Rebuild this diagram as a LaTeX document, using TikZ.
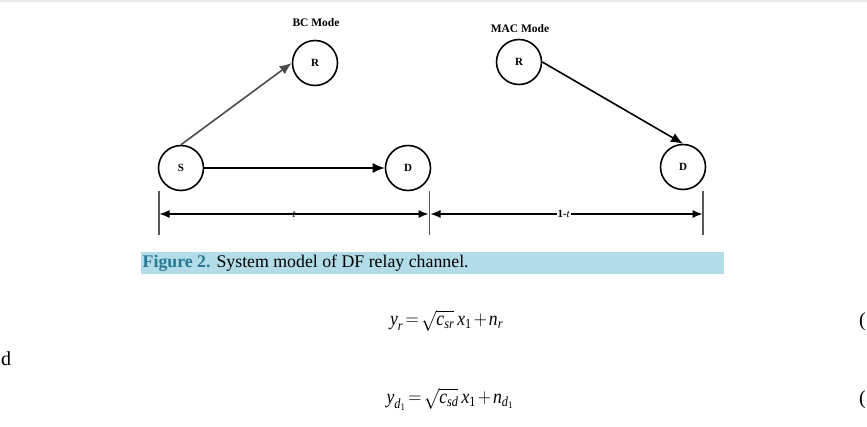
\documentclass[tikz,border=0pt]{standalone}
\usepackage{amsmath}
\usepackage{graphicx}
\usepackage{fontspec}
\setmainfont{Liberation Serif}
\usetikzlibrary{arrows.meta}
\definecolor{capbg}{RGB}{178,220,232}
\definecolor{figblue}{RGB}{40,120,150}
\newcommand{\mv}[1]{\textit{#1}}
\begin{document}
\begin{tikzpicture}[x=1pt,y=-1pt,
  nd/.style={circle,draw,line width=1.6pt,minimum size=45pt,inner sep=0pt,font=\fontsize{11}{11}\selectfont\bfseries},
  modelbl/.style={font=\fontsize{11.5}{12}\selectfont\bfseries,inner sep=0pt},
  lnk/.style={line width=1.6pt,-{Latex[length=12pt,width=10pt]}},
  dimline/.style={line width=1.2pt,{Latex[length=10pt,width=8pt]}-{Latex[length=10pt,width=8pt]}},
  tickline/.style={line width=1.3pt,draw=black!65},
  dimlbl/.style={font=\fontsize{11}{11}\selectfont,inner sep=0.6pt},
  eqn/.style={font=\fontsize{20}{21}\selectfont,inner sep=0pt}]
\useasboundingbox (0,0) rectangle (867,426);
\fill[black!8] (0,0) rectangle (867,1.5);
% BC mode
\node[modelbl] (bcl) at (316,23) {BC Mode};
\node[nd] (r1) at (315,63) {R};
\node[nd] (s) at (181,168) {S};
\node[nd] (d1) at (408,168) {D};
\draw[lnk,draw=black!70] (s.north) -- (r1.west);
\draw[lnk] (s.east) -- (d1.west);
% MAC mode
\node[modelbl] (macl) at (520,29) {MAC Mode};
\node[nd] (r2) at (519,62) {R};
\node[nd] (d2) at (683,167) {D};
\draw[lnk] (r2.east) -- (d2.north);
% dimension lines
\coordinate (v1t) at (159,191); \coordinate (v1b) at (159,235);
\coordinate (v2t) at (429.5,191); \coordinate (v2b) at (429.5,235);
\coordinate (v3t) at (703,191); \coordinate (v3b) at (703,235);
\draw[tickline] (v1t) -- (v1b);
\draw[tickline] (v2t) -- (v2b);
\draw[tickline] (v3t) -- (v3b);
\coordinate (a1) at (159.5,214); \coordinate (a2) at (428.5,214);
\coordinate (a3) at (430.5,214); \coordinate (a4) at (702.5,214);
\draw[dimline] (a1) -- node[dimlbl] (tl) {\textit{t}} (a2);
\draw[dimline] (a3) -- node[dimlbl,fill=white,pos=0.49] (ttl) {\textbf{1-}\textit{t}} (a4);
% caption
\fill[capbg] (141,252) rectangle (724,273.5);
\node[anchor=west,inner sep=0pt,font=\fontsize{17.8}{18}\selectfont] (cap) at (142.5,263) {{\color{figblue}\bfseries Figure 2.} System model of DF relay channel.};
% equations
\node[eqn] (eq1) at (446.5,321) {\scalebox{0.88}[1]{\thickmuskip=2.5mu\medmuskip=2mu$\mv{y}_{\mv{r}}=\sqrt{\mv{c}_{\mv{sr}}}\,\mv{x}_{\textup{1}}+\mv{n}_{\mv{r}}$}};
\node[eqn,anchor=west] (dd) at (1,359) {d};
\node[eqn] (eq2) at (450,399) {\scalebox{0.88}[1]{\thickmuskip=2.5mu\medmuskip=2mu$\mv{y}_{\mv{d}_{\textup{1}}}=\sqrt{\mv{c}_{\mv{sd}}}\,\mv{x}_{\textup{1}}+\mv{n}_{\mv{d}_{\textup{1}}}$}};
\node[eqn,anchor=west] (p1) at (859,322) {(};
\node[eqn,anchor=west] (p2) at (859,400) {(};
\end{tikzpicture}
\end{document}
